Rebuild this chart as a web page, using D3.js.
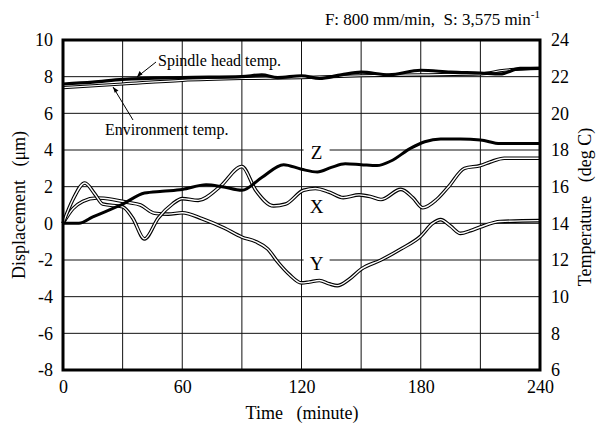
<!DOCTYPE html>
<html>
<head>
<meta charset="utf-8">
<script src="https://cdn.jsdelivr.net/npm/d3@7"></script>
<style>
  body { margin: 0; background: #fff; }
  svg text { font-family: "Liberation Serif", "Times New Roman", serif; fill: #000; }
</style>
</head>
<body>
<svg id="chart"></svg>
<script>
// time axis (minute)
var timeTicks = [0, 60, 120, 180, 240];
var dispTicks = [-8, -6, -4, -2, 0, 2, 4, 6, 8, 10];
var tempTicks = [6, 8, 10, 12, 14, 16, 18, 20, 22, 24];

// displacement (um), [time, value]
var zData = [[0,0],[8,0.0],[15,0.35],[30,1.05],[41,1.65],[50,1.75],[60,1.85],[72,2.1],[80,2.0],
  [90,1.8],[100,2.5],[111,3.2],[120,2.95],[128,2.8],[135,3.05],[142,3.25],[150,3.2],[158,3.15],
  [165,3.4],[175,4.1],[182,4.45],[190,4.6],[200,4.6],[210,4.55],[220,4.35],[240,4.35]];
var xData = [[0,0],[5,1.3],[11,2.2],[16,1.6],[20,1.05],[30,0.9],[35,0.3],[41,-0.85],[48,0.3],
  [55,1.05],[60,1.35],[68,1.25],[79,2.0],[90,3.1],[97,1.8],[106,0.95],[112,1.05],[121,1.8],
  [127,1.9],[134,1.7],[141,1.4],[149,1.55],[155,1.45],[160,1.3],[170,1.85],[176,1.4],[181,0.85],
  [188,1.3],[194,2.0],[202,3.0],[210,3.15],[215,3.35],[222,3.55],[240,3.55]];
var yData = [[0,0],[5,0.8],[10,1.2],[17,1.38],[25,1.3],[32,1.15],[39,1.0],[46,0.55],[53,0.5],
  [60,0.58],[70,0.25],[81,-0.25],[90,-0.75],[97,-1.0],[103,-1.4],[108,-2.1],[114,-2.8],[120,-3.25],
  [124,-3.2],[129,-3.12],[134,-3.3],[138,-3.4],[144,-3.05],[150,-2.5],[160,-2.0],[170,-1.4],
  [180,-0.7],[186,0.0],[190,0.2],[195,-0.15],[200,-0.55],[205,-0.4],[210,-0.2],[220,0.1],[240,0.15]];

// temperature (deg C), [time, value]
var spindleTemp = [[0,21.6],[15,21.7],[30,21.85],[60,21.95],[90,22.0],[100,22.1],[108,21.95],
  [120,22.05],[129,21.9],[140,22.1],[150,22.25],[164,22.1],[180,22.35],[195,22.25],[210,22.2],
  [220,22.15],[230,22.45],[240,22.45]];
var envTemp = [[0,21.4],[30,21.6],[60,21.8],[90,21.9],[120,21.95],[150,22.05],[180,22.1],
  [210,22.15],[222,22.35],[240,22.45]];

var W = 603, H = 424,
    pLeft = 63, pRight = 540, pTop = 40, pBottom = 370,
    serif = "'Liberation Serif', 'Times New Roman', serif";

var svg = d3.select("#chart").attr("width", W).attr("height", H)
  .style("font-family", serif);

var x = d3.scaleLinear().domain([0, 240]).range([pLeft, pRight]);
var y = d3.scaleLinear().domain([-8, 10]).range([pBottom, pTop]);
var yT = d3.scaleLinear().domain([6, 24]).range([pBottom, pTop]);

// grid
var grid = svg.append("g");
d3.range(30, 240, 30).forEach(function(t) {
  grid.append("line").attr("x1", x(t)).attr("x2", x(t)).attr("y1", pTop).attr("y2", pBottom)
    .attr("stroke", "#111").attr("stroke-width", 1);
});
dispTicks.slice(1, -1).forEach(function(v) {
  grid.append("line").attr("x1", pLeft).attr("x2", pRight).attr("y1", y(v)).attr("y2", y(v))
    .attr("stroke", "#111").attr("stroke-width", 1);
});

// axes (labels only, ticks hidden)
var plain = function(d) { return String(d); };
var axL = svg.append("g").attr("transform", "translate(" + pLeft + ",0)")
  .call(d3.axisLeft(y).tickValues(dispTicks).tickFormat(plain).tickSize(0).tickPadding(10));
var axR = svg.append("g").attr("transform", "translate(" + pRight + ",0)")
  .call(d3.axisRight(yT).tickValues(tempTicks).tickFormat(plain).tickSize(0).tickPadding(11));
var axB = svg.append("g").attr("transform", "translate(0," + pBottom + ")")
  .call(d3.axisBottom(x).tickValues(timeTicks).tickFormat(plain).tickSize(0).tickPadding(10));
[axL, axR, axB].forEach(function(a) {
  a.select(".domain").remove();
  a.attr("font-family", null).attr("font-size", null);
  a.selectAll("text").style("font-family", serif).style("font-size", "18px").attr("fill", "#000");
});

var line = d3.line().x(function(d) { return x(d[0]); }).y(function(d) { return y(d[1]); })
  .curve(d3.curveMonotoneX);
var lineT = d3.line().x(function(d) { return x(d[0]); }).y(function(d) { return yT(d[1]); })
  .curve(d3.curveMonotoneX);

var plot = svg.append("g");

function doubleLine(path, outer, inner) {
  plot.append("path").attr("d", path).attr("fill", "none").attr("stroke", "#000").attr("stroke-width", outer);
  plot.append("path").attr("d", path).attr("fill", "none").attr("stroke", "#fff").attr("stroke-width", inner);
}

// temperatures
doubleLine(lineT(envTemp), 3.2, 1.2);
plot.append("path").attr("d", lineT(spindleTemp)).attr("fill", "none")
  .attr("stroke", "#000").attr("stroke-width", 3.2);

// displacements
doubleLine(line(yData), 3.6, 1.4);
doubleLine(line(xData), 3.6, 1.4);
plot.append("path").attr("d", line(zData)).attr("fill", "none")
  .attr("stroke", "#000").attr("stroke-width", 3);

// series labels on white background
[["Z", 3.84], ["X", 0.91], ["Y", -2.18]].forEach(function(l) {
  var cx = x(127.6), cy = y(l[1]);
  svg.append("rect").attr("x", cx - 13).attr("y", cy - 9).attr("width", 26).attr("height", 18).attr("fill", "#fff");
  svg.append("text").attr("x", cx).attr("y", cy + 6.5).attr("text-anchor", "middle")
    .style("font-size", "19px").text(l[0]);
});

// annotations
svg.append("text").attr("x", 158).attr("y", 66).style("font-size", "16px").text("Spindle head temp.");
svg.append("line").attr("x1", 156).attr("y1", 62).attr("x2", 137).attr("y2", 77)
  .attr("stroke", "#000").attr("stroke-width", 1);
svg.append("path").attr("d", "M137,77 l2.5,-6 l3,3.5 z").attr("fill", "#000");

svg.append("text").attr("x", 105).attr("y", 135).style("font-size", "16px").text("Environment temp.");
svg.append("line").attr("x1", 133).attr("y1", 120).attr("x2", 113).attr("y2", 87)
  .attr("stroke", "#000").attr("stroke-width", 1);
svg.append("path").attr("d", "M113,87 l5.5,3.5 l-3.8,2.3 z").attr("fill", "#000");

// frame
svg.append("rect").attr("x", pLeft).attr("y", pTop).attr("width", pRight - pLeft).attr("height", pBottom - pTop)
  .attr("fill", "none").attr("stroke", "#000").attr("stroke-width", 3);

// titles
var title = svg.append("text").attr("x", 540).attr("y", 25).attr("text-anchor", "end").style("font-size", "17px");
title.append("tspan").attr("xml:space", "preserve").text("F: 800 mm/min,  S: 3,575 min");
title.append("tspan").attr("dy", -7).style("font-size", "11px").text("-1");

svg.append("text").attr("x", 302).attr("y", 419).attr("text-anchor", "middle").style("font-size", "18px")
  .attr("xml:space", "preserve").text("Time   (minute)");
svg.append("text").attr("transform", "translate(25,205) rotate(-90)").attr("text-anchor", "middle")
  .style("font-size", "18px").attr("xml:space", "preserve").text("Displacement   (\u03bcm)");
svg.append("text").attr("transform", "translate(591,207) rotate(-90)").attr("text-anchor", "middle")
  .style("font-size", "18px").attr("xml:space", "preserve").text("Temperature   (deg C)");
</script>
</body>
</html>
